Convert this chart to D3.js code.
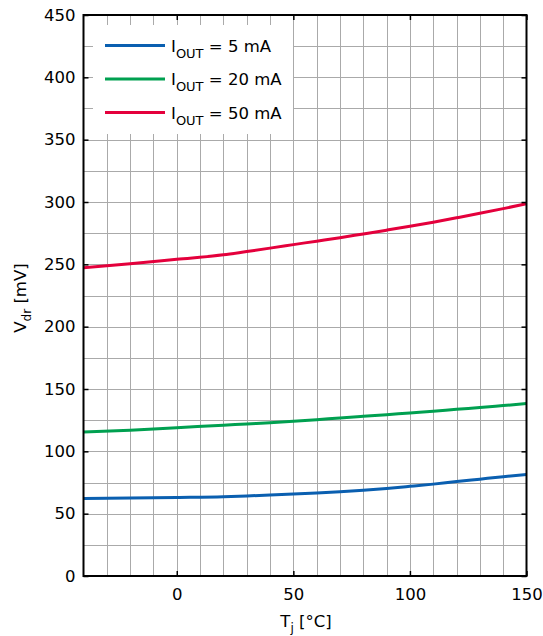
<!DOCTYPE html>
<html>
<head>
<meta charset="utf-8">
<script src="https://cdn.jsdelivr.net/npm/d3@7"></script>
<style>
  body { margin: 0; background: #fff; }
  text { font-family: "DejaVu Sans", sans-serif; fill: #000; }
</style>
</head>
<body>
<div id="chart"></div>
<script>
// junction temperature (degC)
var temps = [-40, -20, 0, 20, 30, 40, 50, 60, 70, 80, 90, 100, 110, 120, 130, 140, 150];
// dropout voltage (mV) per output current
var vdr5 = [62.2, 62.5, 63, 63.6, 64.2, 64.9, 65.7, 66.6, 67.6, 68.8, 70.2, 71.9, 73.7, 75.8, 77.7, 79.6, 81.4];
var vdr20 = [115.5, 116.9, 119, 120.9, 122.0, 123, 124.1, 125.4, 126.8, 128.1, 129.4, 130.8, 132.1, 133.7, 135.1, 136.7, 138.3];
var vdr50 = [247.2, 250.4, 254, 257.6, 260.3, 263.0, 265.8, 268.6, 271.4, 274.4, 277.4, 280.5, 283.8, 287.3, 290.9, 294.7, 298.6];
var seriesNames = ["5", "20", "50"];
var colors = ["#0a5fb0", "#00a050", "#e4003c"];
var xTicks = [0, 50, 100, 150];
var yTicks = [0, 50, 100, 150, 200, 250, 300, 350, 400, 450];

var width = 543, height = 636;
var margin = { top: 15, right: 16.5, bottom: 60, left: 83.5 };

var svg = d3.select("#chart").append("svg")
  .attr("width", width)
  .attr("height", height);

var x = d3.scaleLinear().domain([-40, 150]).range([margin.left, width - margin.right]);
var y = d3.scaleLinear().domain([0, 450]).range([height - margin.bottom, margin.top]);

// grid
var grid = svg.append("g").attr("stroke", "#aaaaaa").attr("stroke-width", 1);
grid.selectAll(".vg").data(d3.range(-30, 150, 10)).enter().append("line")
  .attr("x1", function(d) { return Math.round(x(d)) + 0.5; })
  .attr("x2", function(d) { return Math.round(x(d)) + 0.5; })
  .attr("y1", y(0)).attr("y2", y(450));
grid.selectAll(".hg").data(d3.range(25, 450, 25)).enter().append("line")
  .attr("y1", function(d) { return Math.round(y(d)) + 0.5; })
  .attr("y2", function(d) { return Math.round(y(d)) + 0.5; })
  .attr("x1", x(-40)).attr("x2", x(150));

// legend background hides grid
svg.append("rect")
  .attr("x", 93).attr("y", 25).attr("width", 200).attr("height", 109)
  .attr("fill", "#fff");

// curves
var allSeries = [vdr5, vdr20, vdr50];
var line = d3.line()
  .x(function(d, i) { return x(temps[i]); })
  .y(function(d) { return y(d); })
  .curve(d3.curveMonotoneX);

svg.selectAll(".curve").data(allSeries).enter().append("path")
  .attr("class", "curve")
  .attr("d", line)
  .attr("fill", "none")
  .attr("stroke", function(d, i) { return colors[i]; })
  .attr("stroke-width", 3);

// frame
svg.append("rect")
  .attr("x", x(-40)).attr("y", y(450))
  .attr("width", x(150) - x(-40)).attr("height", y(0) - y(450))
  .attr("fill", "none").attr("stroke", "#000").attr("stroke-width", 2);

// axes with inward ticks
var yAxisL = d3.axisLeft(y).tickValues(yTicks).tickSizeInner(-5).tickSizeOuter(0).tickPadding(8);
var yAxisR = d3.axisRight(y).tickValues(yTicks).tickSizeInner(-5).tickSizeOuter(0).tickFormat("");
var xAxisB = d3.axisBottom(x).tickValues(xTicks).tickSizeInner(-5).tickSizeOuter(0).tickPadding(12);
var xAxisT = d3.axisTop(x).tickValues(xTicks).tickSizeInner(-5).tickSizeOuter(0).tickFormat("");

svg.append("g").attr("transform", "translate(" + x(-40) + ",0)").call(yAxisL);
svg.append("g").attr("transform", "translate(" + x(150) + ",0)").call(yAxisR);
svg.append("g").attr("transform", "translate(0," + y(0) + ")").call(xAxisB);
svg.append("g").attr("transform", "translate(0," + y(450) + ")").call(xAxisT);

svg.selectAll(".domain").remove();
svg.selectAll(".tick line").attr("stroke", "#000").attr("stroke-width", 1.5);
svg.selectAll(".tick text").style("font-size", "16.5px").attr("fill", "#000")
  .style("font-family", "'DejaVu Sans', sans-serif");

// legend
var legend = svg.append("g");
seriesNames.forEach(function(name, i) {
  var ly = 45.5 + i * 33.5;
  legend.append("line")
    .attr("x1", 105).attr("x2", 165).attr("y1", ly).attr("y2", ly)
    .attr("stroke", colors[i]).attr("stroke-width", 3);
  var t = legend.append("text").attr("x", 171).attr("y", ly + 6).style("font-size", "16.5px");
  t.append("tspan").text("I");
  t.append("tspan").attr("dy", 6).style("font-size", "13px").text("OUT");
  t.append("tspan").attr("dy", -6).text(" = " + name + " mA");
});

// axis titles
var xt = svg.append("text")
  .attr("x", 306).attr("y", 627)
  .attr("text-anchor", "middle").style("font-size", "16.5px");
xt.append("tspan").text("T");
xt.append("tspan").attr("dy", 5).style("font-size", "12px").text("j");
xt.append("tspan").attr("dy", -5).text(" [°C]");

var yt = svg.append("text")
  .attr("transform", "translate(26,298) rotate(-90)")
  .attr("text-anchor", "middle").style("font-size", "16.5px");
yt.append("tspan").text("V");
yt.append("tspan").attr("dy", 5).style("font-size", "12px").text("dr");
yt.append("tspan").attr("dy", -5).text(" [mV]");
</script>
</body>
</html>
